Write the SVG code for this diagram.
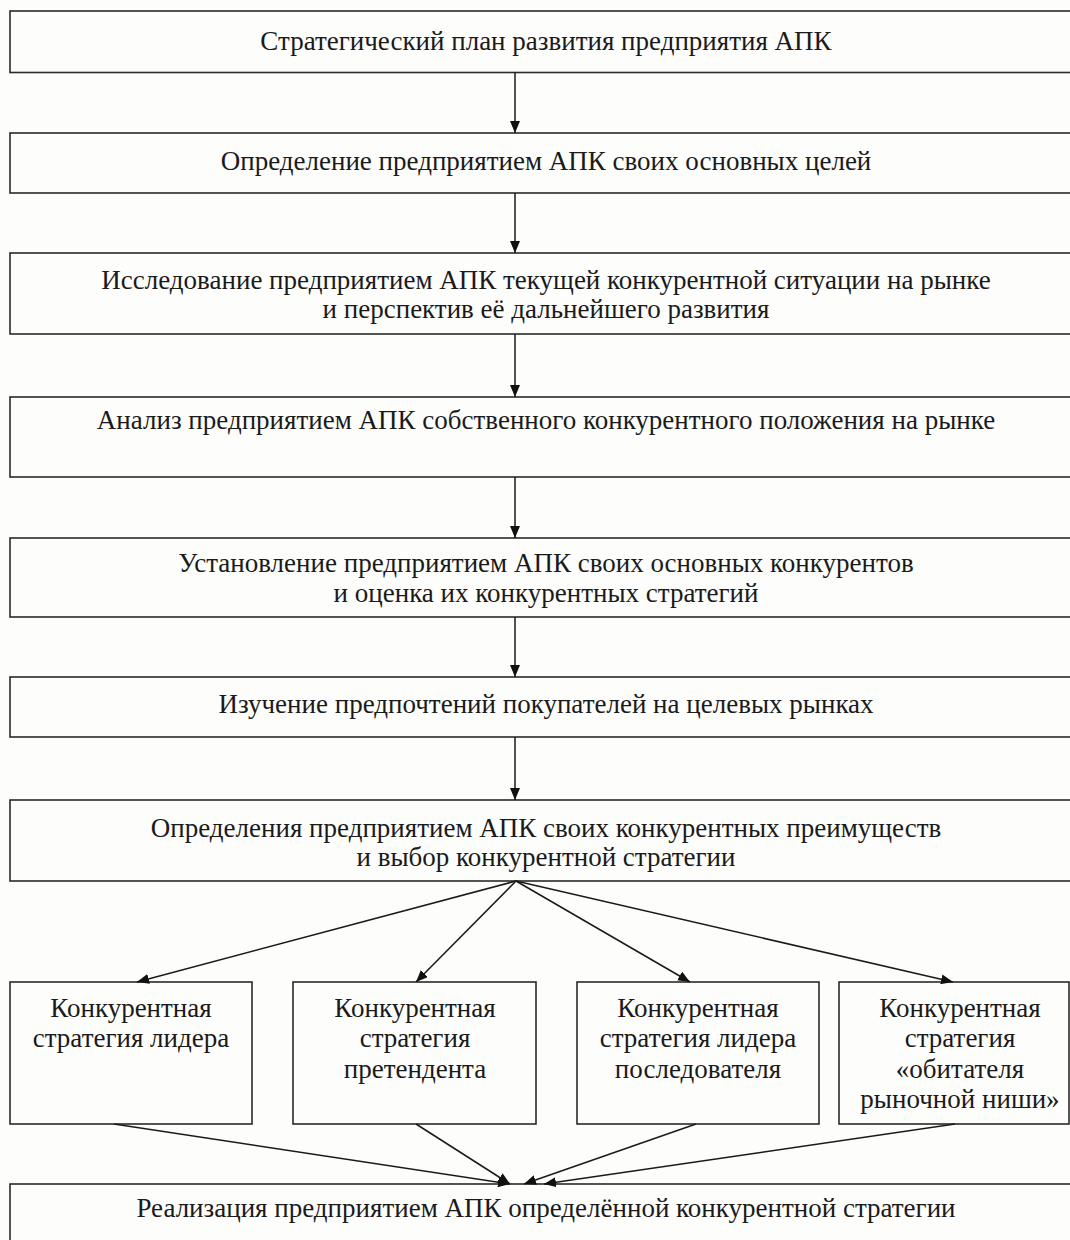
<svg xmlns="http://www.w3.org/2000/svg" width="1070" height="1240" viewBox="0 0 1070 1240">
<style>
.box{fill:#fdfdfc;stroke:#2a2a2a;stroke-width:1.6}
.t{font-family:"Liberation Serif","Times New Roman",serif;font-size:27px;fill:#1a1a1a;text-anchor:middle}
.c{stroke:#1a1a1a;stroke-width:1.5;fill:none;marker-end:url(#ah)}
</style>
<defs>
<marker id="ah" viewBox="0 0 12 10" refX="12" refY="5" markerWidth="12" markerHeight="10" markerUnits="userSpaceOnUse" orient="auto">
<path d="M0,0 L12,5 L0,10 Z" fill="#111"/>
</marker>
</defs>
<rect width="1070" height="1240" fill="#fdfdfc"/>
<g id="n1"><rect class="box" x="10" y="11" width="1072" height="61.5"/><text class="t" x="546" y="50">Стратегический план развития предприятия АПК</text></g>
<g id="n2"><rect class="box" x="10" y="133" width="1072" height="60"/><text class="t" x="546" y="170">Определение предприятием АПК своих основных целей</text></g>
<g id="n3"><rect class="box" x="10" y="253" width="1072" height="81"/><text class="t" x="546" y="289">Исследование предприятием АПК текущей конкурентной ситуации на рынке</text><text class="t" x="546" y="318">и перспектив её дальнейшего развития</text></g>
<g id="n4"><rect class="box" x="10" y="397" width="1072" height="80"/><text class="t" x="546" y="429">Анализ предприятием АПК собственного конкурентного положения на рынке</text></g>
<g id="n5"><rect class="box" x="10" y="538" width="1072" height="79"/><text class="t" x="546" y="572">Установление предприятием АПК своих основных конкурентов</text><text class="t" x="546" y="602">и оценка их конкурентных стратегий</text></g>
<g id="n6"><rect class="box" x="10" y="677" width="1072" height="60"/><text class="t" x="546" y="713">Изучение предпочтений покупателей на целевых рынках</text></g>
<g id="n7"><rect class="box" x="10" y="800" width="1072" height="81"/><text class="t" x="546" y="837">Определения предприятием АПК своих конкурентных преимуществ</text><text class="t" x="546" y="866">и выбор конкурентной стратегии</text></g>
<g id="s1"><rect class="box" x="10" y="982" width="242" height="142"/><text class="t" x="131" y="1017">Конкурентная</text><text class="t" x="131" y="1047">стратегия лидера</text></g>
<g id="s2"><rect class="box" x="293" y="982" width="243" height="142"/><text class="t" x="415" y="1017">Конкурентная</text><text class="t" x="415" y="1047">стратегия</text><text class="t" x="415" y="1078">претендента</text></g>
<g id="s3"><rect class="box" x="577" y="982" width="242" height="142"/><text class="t" x="698" y="1017">Конкурентная</text><text class="t" x="698" y="1047">стратегия лидера</text><text class="t" x="698" y="1078">последователя</text></g>
<g id="s4"><rect class="box" x="839" y="982" width="230" height="142"/><text class="t" x="960" y="1017">Конкурентная</text><text class="t" x="960" y="1047">стратегия</text><text class="t" x="960" y="1078">«обитателя</text><text class="t" x="960" y="1108">рыночной ниши»</text></g>
<g id="n8"><rect class="box" x="10" y="1184" width="1072" height="70"/><text class="t" x="546" y="1217">Реализация предприятием АПК определённой конкурентной стратегии</text></g>
<g id="connectors">
<line class="c" x1="515" y1="72.5" x2="515" y2="133"/>
<line class="c" x1="515" y1="193" x2="515" y2="253"/>
<line class="c" x1="515" y1="334" x2="515" y2="397"/>
<line class="c" x1="515" y1="477" x2="515" y2="538"/>
<line class="c" x1="515" y1="617" x2="515" y2="677"/>
<line class="c" x1="515" y1="737" x2="515" y2="800"/>
<line class="c" x1="516" y1="881" x2="137" y2="982"/>
<line class="c" x1="516" y1="881" x2="416" y2="982"/>
<line class="c" x1="516" y1="881" x2="690" y2="982"/>
<line class="c" x1="516" y1="881" x2="953" y2="982"/>
<line class="c" x1="114" y1="1124" x2="510" y2="1184"/>
<line class="c" x1="416" y1="1124" x2="510" y2="1184"/>
<line class="c" x1="696" y1="1124" x2="524" y2="1184"/>
<line class="c" x1="955" y1="1124" x2="544" y2="1184"/>
</g>
</svg>
